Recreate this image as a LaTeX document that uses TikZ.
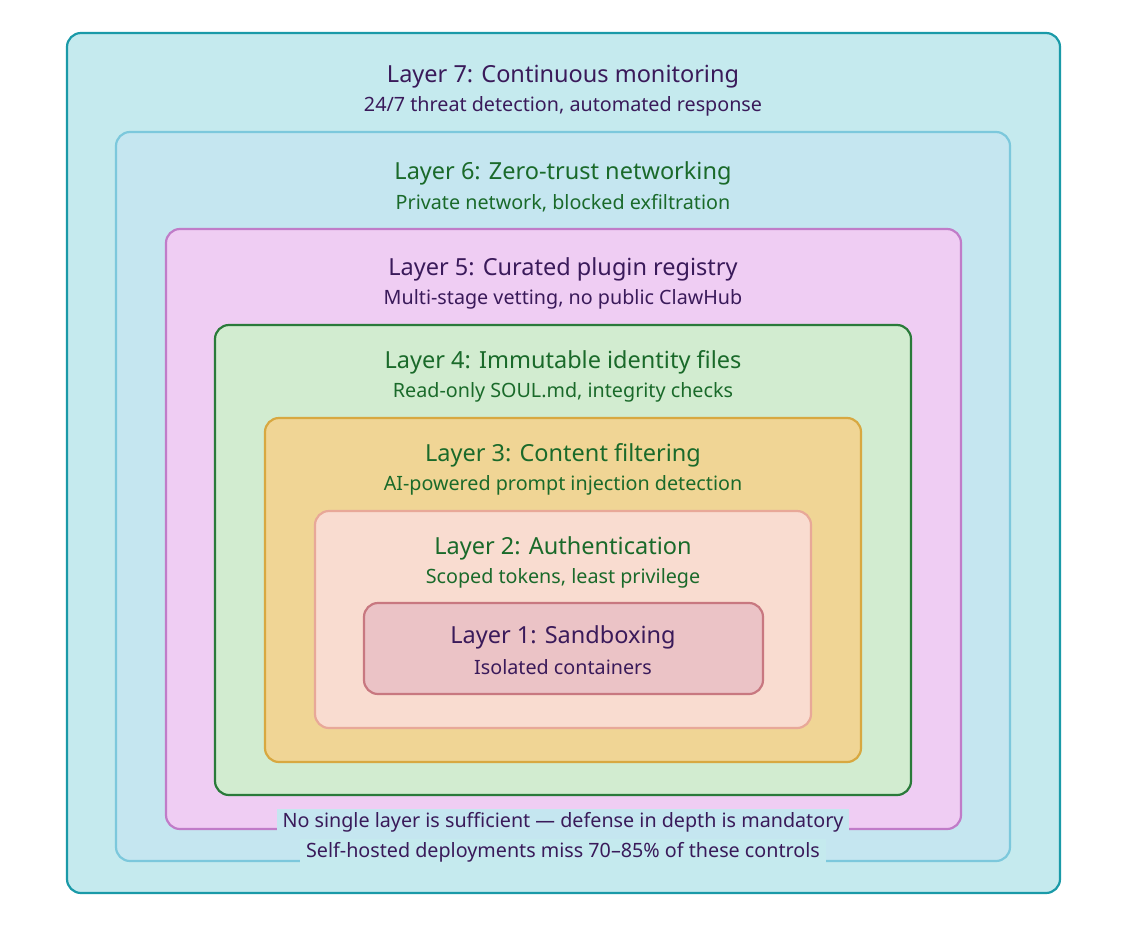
\documentclass[tikz,border=0pt]{standalone}
\usepackage{fontspec}
\setmainfont{Noto Sans}
\definecolor{purp}{HTML}{3A1A5A}
\definecolor{grn}{HTML}{1A6A2A}
\definecolor{c7}{HTML}{1A9AA8}\definecolor{f7}{HTML}{C5EAEE}
\definecolor{c6}{HTML}{7CC8DC}\definecolor{f6}{HTML}{C5E6F0}
\definecolor{c5}{HTML}{C07CC8}\definecolor{f5}{HTML}{EFCDF3}
\definecolor{c4}{HTML}{2A7A3A}\definecolor{f4}{HTML}{D2ECD0}
\definecolor{c3}{HTML}{D8A840}\definecolor{f3}{HTML}{F0D595}
\definecolor{c2}{HTML}{E8A898}\definecolor{f2}{HTML}{F9DCD0}
\definecolor{c1}{HTML}{C87880}\definecolor{f1}{HTML}{EBC3C6}
\begin{document}
\begin{tikzpicture}[x=1bp,y=-1bp,
  layer/.style={rounded corners=14bp,line width=2.2bp},
  ttl/.style={font=\fontsize{23.6}{26}\selectfont,inner sep=0},
  sub/.style={font=\fontsize{19.8}{22}\selectfont,inner sep=0}]
\useasboundingbox (0,0) rectangle (1127,928);
\draw[layer,draw=c7,fill=f7] (67,33) rectangle (1060,893);
\draw[layer,draw=c6,fill=f6] (116,132) rectangle (1010,861);
\draw[layer,draw=c5,fill=f5] (166,229) rectangle (961,829);
\draw[layer,draw=c4,fill=f4] (215,325) rectangle (911,795);
\draw[layer,draw=c3,fill=f3] (265,418) rectangle (861,762);
\draw[layer,draw=c2,fill=f2] (315,511) rectangle (811,728);
\draw[layer,draw=c1,fill=f1] (364,603) rectangle (763,694);
\node[ttl,text=purp] (t7) at (563,77) {Layer 7: Continuous monitoring};
\node[sub,text=purp] (s7) at (563,106) {24/7 threat detection, automated response};
\node[ttl,text=grn] (t6) at (563,173) {Layer 6: Zero-trust networking};
\node[sub,text=grn] (s6) at (563,203) {Private network, blocked exfiltration};
\node[ttl,text=purp] (t5) at (563,269) {Layer 5: Curated plugin registry};
\node[sub,text=purp] (s5) at (563,299) {Multi-stage vetting, no public ClawHub};
\node[ttl,text=grn] (t4) at (563,362) {Layer 4: Immutable identity files};
\node[sub,text=grn] (s4) at (563,392) {Read-only SOUL.md, integrity checks};
\node[ttl,text=grn] (t3) at (563,455) {Layer 3: Content filtering};
\node[sub,text=grn] (s3) at (563,485) {AI-powered prompt injection detection};
\node[ttl,text=grn] (t2) at (563,548) {Layer 2: Authentication};
\node[sub,text=grn] (s2) at (563,578) {Scoped tokens, least privilege};
\node[ttl,text=purp] (t1) at (563,637) {Layer 1: Sandboxing};
\node[sub,text=purp] (s1) at (563,667) {Isolated containers};
\node[sub,text=purp,fill=f6,inner xsep=6bp,inner ysep=3bp] (n1) at (563,822) {No single layer is sufficient — defense in depth is mandatory};
\node[sub,text=purp,fill=f7,inner xsep=6bp,inner ysep=3bp] (n2) at (563,852) {Self-hosted deployments miss 70–85\% of these controls};
\end{tikzpicture}
\end{document}
